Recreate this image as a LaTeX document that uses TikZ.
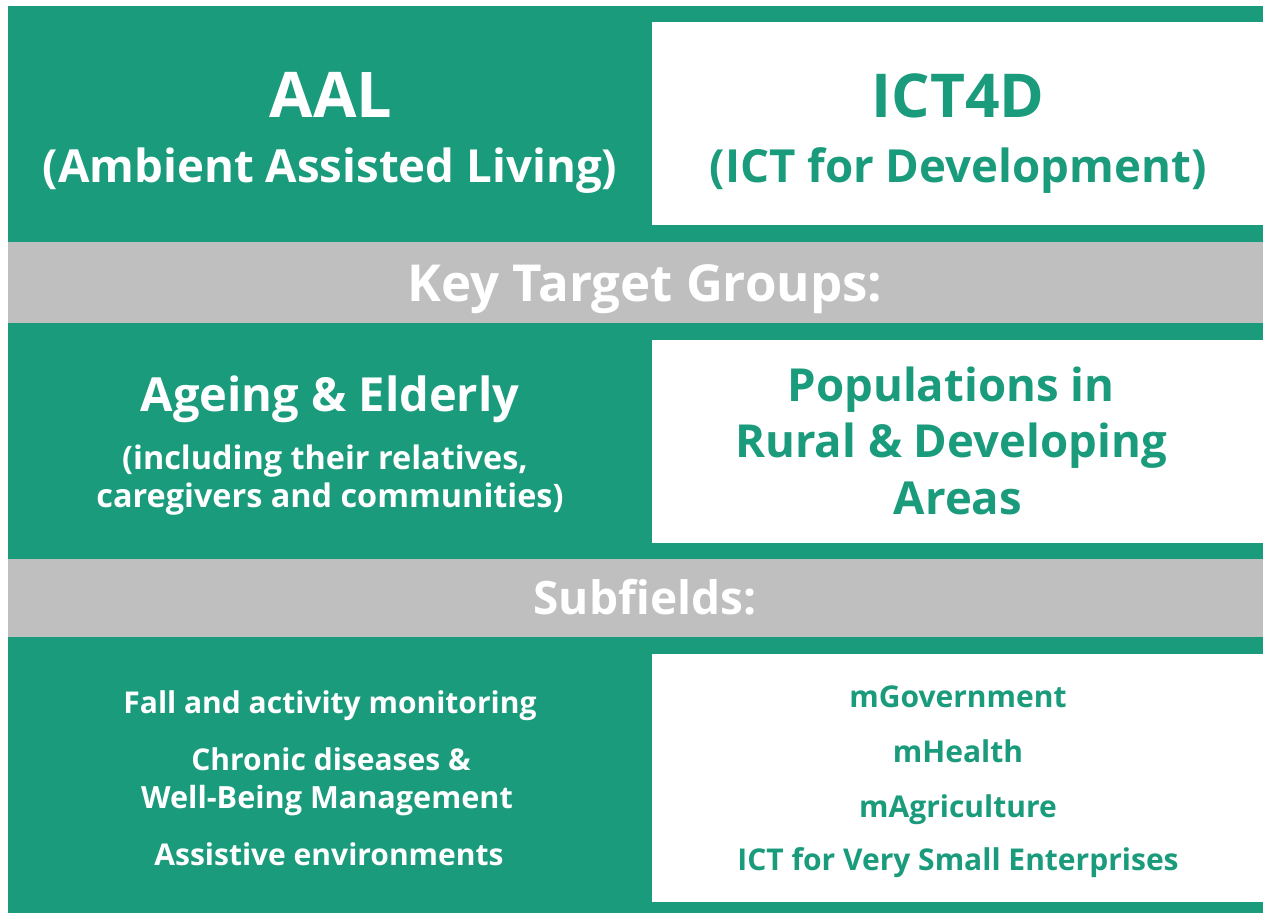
\documentclass[tikz,border=0pt]{standalone}
\usepackage{fontspec}
\setmainfont{Open Sans}
\usepackage{xcolor}
\usepackage{tikz}
\usetikzlibrary{backgrounds}

\definecolor{aalgreen}{RGB}{26,155,124}
\definecolor{bandgray}{RGB}{191,191,191}

\begin{document}
\begin{tikzpicture}[x=1pt, y=-1pt]

		\tikzstyle{panel}   = [fill=white, draw=none]
		\tikzstyle{band}    = [fill=bandgray, draw=none]
		\tikzstyle{wtext}   = [anchor=base, inner sep=0pt, text=white, font=\bfseries]
		\tikzstyle{gtext}   = [anchor=base, inner sep=0pt, text=aalgreen, font=\bfseries]
		\useasboundingbox (0,0) rectangle (1263,913);
		\fill [aalgreen] (8,6) rectangle (1263,913);
		\fill [panel] (652,22) rectangle (1263,225);
		\fill [panel] (652,340) rectangle (1263,543);
		\fill [panel] (652,654) rectangle (1263,902);
		\fill [band] (8,242) rectangle (1263,323);
		\fill [band] (8,559) rectangle (1263,637);

		% headers
		\node [wtext, font=\bfseries\fontsize{63}{63}\selectfont](aal) at (331,117) {AAL};
		\node [wtext, font=\bfseries\fontsize{45.6}{46}\selectfont](aalfull) at (330,182) {(Ambient Assisted Living)};
		\node [gtext, font=\bfseries\fontsize{60.5}{61}\selectfont](ict) at (958,117) {ICT4D};
		\node [gtext, font=\bfseries\fontsize{45.6}{46}\selectfont](ictfull) at (958,182) {(ICT for Development)};

		% target groups
		\node [wtext, font=\bfseries\fontsize{51}{51}\selectfont](keyt) at (645,301) {Key Target Groups:};
		\node [wtext, font=\bfseries\fontsize{47}{47}\selectfont](aged) at (330,411) {Ageing \& Elderly};
		\node [wtext, font=\bfseries\fontsize{32.4}{33}\selectfont](rel1) at (325,469) {(including their relatives,};
		\node [wtext, font=\bfseries\fontsize{32.4}{33}\selectfont](rel2) at (330,507) {caregivers and communities)};
		\node [gtext, font=\bfseries\fontsize{45.5}{46}\selectfont](pop1) at (951,401) {Populations in};
		\node [gtext, font=\bfseries\fontsize{45.5}{46}\selectfont](pop2) at (951,457) {Rural \& Developing};
		\node [gtext, font=\bfseries\fontsize{45.5}{46}\selectfont](pop3) at (958,514) {Areas};

		% subfields
		\node [wtext, font=\bfseries\fontsize{46}{46}\selectfont](subf) at (645,614) {Subfields:};
		\node [wtext, font=\bfseries\fontsize{30}{30}\selectfont](fall) at (330,713) {Fall and activity monitoring};
		\node [wtext, font=\bfseries\fontsize{30}{30}\selectfont](chr1) at (331,770) {Chronic diseases \&};
		\node [wtext, font=\bfseries\fontsize{30.6}{31}\selectfont](chr2) at (327,808) {Well-Being Management};
		\node [wtext, font=\bfseries\fontsize{30}{30}\selectfont](assi) at (329,865) {Assistive environments};
		\node [gtext, font=\bfseries\fontsize{30}{30}\selectfont](mgov) at (958,707) {mGovernment};
		\node [gtext, font=\bfseries\fontsize{30}{30}\selectfont](mhea) at (958,762) {mHealth};
		\node [gtext, font=\bfseries\fontsize{30}{30}\selectfont](magr) at (958,817) {mAgriculture};
		\node [gtext, font=\bfseries\fontsize{30}{30}\selectfont](ictv) at (958,870) {ICT for Very Small Enterprises};

	\end{tikzpicture}
\end{document}
